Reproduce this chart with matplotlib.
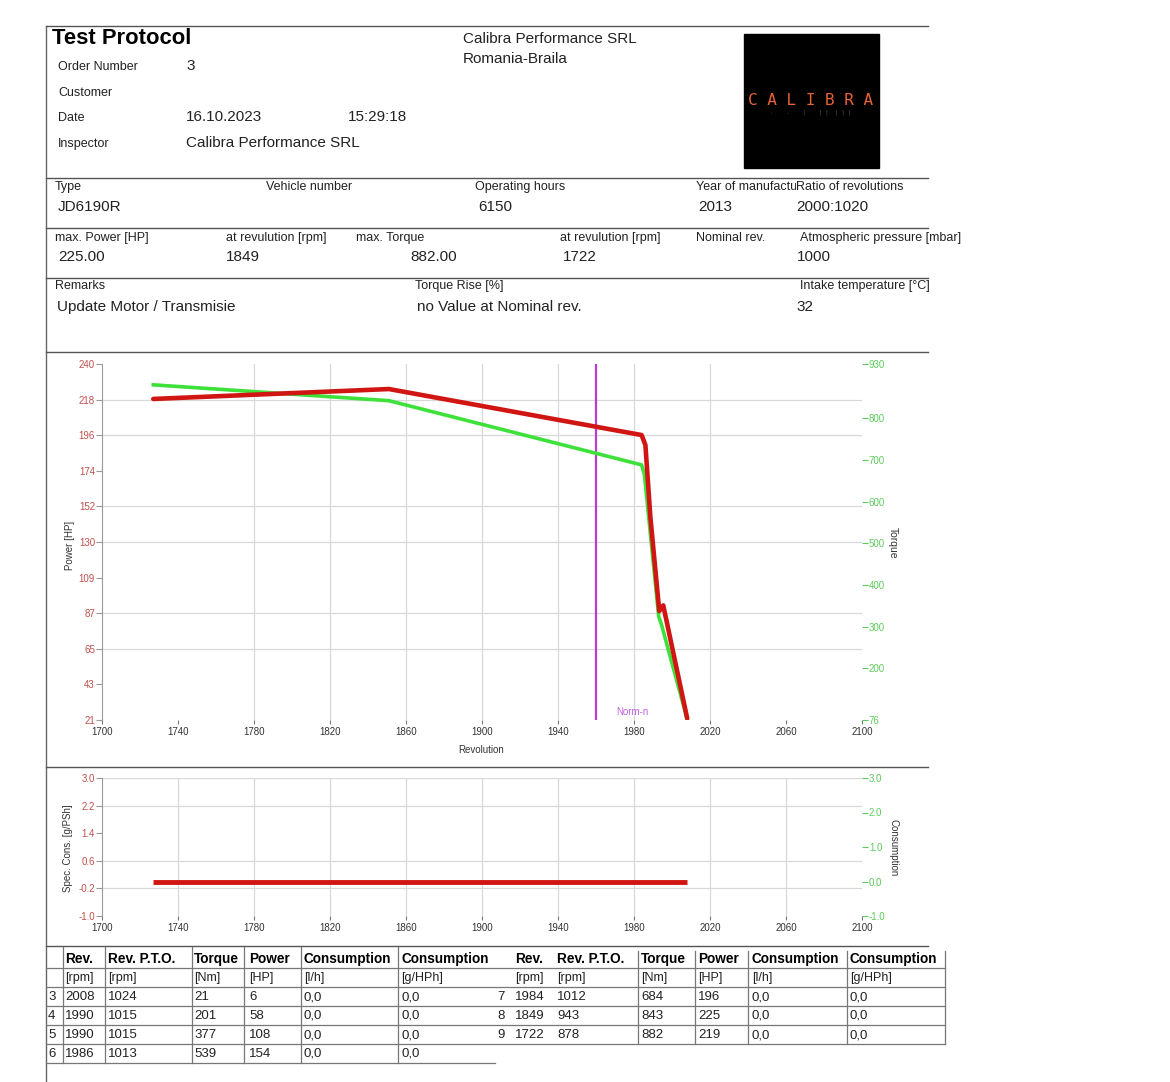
import numpy as np
import matplotlib
matplotlib.use("Agg")
import matplotlib.pyplot as plt
from matplotlib.lines import Line2D
from matplotlib.patches import Rectangle

plt.rcParams['font.family'] = ['Liberation Sans', 'DejaVu Sans']

# curves
power_rpm = [1727, 1851, 1984, 1986, 1988.6, 1993.3, 1995.4, 2008]
power_hp = [218.5, 224.6, 196.3, 190.2, 146, 88, 91.5, 22]
torque_rpm = [1727, 1851, 1984, 1985.5, 1993, 1994.4, 2008]
torque_nm = [880, 842, 688, 664, 324, 306, 78]
cons_rpm = [1727, 2008]
spec_cons = [0.0, 0.0]
nominal_rpm = 1960

power_tick_labels = ['21', '43', '65', '87', '109', '130', '152', '174', '196', '218', '240']
torque_ticks = [76, 200, 300, 400, 500, 600, 700, 800, 930]
cons_left_ticks = [-1.0, -0.2, 0.6, 1.4, 2.2, 3.0]
cons_right_ticks = [-1.0, 0.0, 1.0, 2.0, 3.0]
rpm_ticks = [1700, 1740, 1780, 1820, 1860, 1900, 1940, 1980, 2020, 2060, 2100]

# measurement table
tab_no = [3, 4, 5, 6, 7, 8, 9]
tab_rev = [2008, 1990, 1990, 1986, 1984, 1849, 1722]
tab_pto = [1024, 1015, 1015, 1013, 1012, 943, 878]
tab_torque = [21, 201, 377, 539, 684, 843, 882]
tab_power = [6, 58, 108, 154, 196, 225, 219]
tab_cons_lh = [0.0, 0.0, 0.0, 0.0, 0.0, 0.0, 0.0]
tab_cons_ghph = [0.0, 0.0, 0.0, 0.0, 0.0, 0.0, 0.0]

W, H = 1170, 1082
fig = plt.figure(figsize=(W / 100, H / 100), dpi=100)
fig.patch.set_facecolor('white')

def fx(x):
    return x / W

def fy(y):
    return 1 - y / H

def hline(y, x0, x1, color='#555555', lw=1.0):
    fig.add_artist(Line2D([fx(x0), fx(x1)], [fy(y), fy(y)], color=color, lw=lw))

def vline(x, y0, y1, color='#555555', lw=1.0):
    fig.add_artist(Line2D([fx(x), fx(x)], [fy(y0), fy(y1)], color=color, lw=lw))

def txt(x, y, s, size=9, **kw):
    kw.setdefault('color', '#222222')
    kw.setdefault('ha', 'left')
    fig.text(fx(x), fy(y), s, fontsize=size, va='center', **kw)

# page frame
vline(46, 26, 1082, color='#666666')
for yy in [26, 178, 228, 278, 352, 767, 946]:
    hline(yy, 46, 928)

LAB = 9
VAL = 11

# header
txt(52, 39, 'Test Protocol', size=15.8, weight='bold', color='black')
txt(58, 67, 'Order Number', size=LAB)
txt(186, 66, '3', size=VAL)
txt(58, 93, 'Customer', size=LAB)
txt(58, 118, 'Date', size=LAB)
txt(186, 117, '16.10.2023', size=VAL)
txt(348, 117, '15:29:18', size=VAL)
txt(58, 144, 'Inspector', size=LAB)
txt(186, 143, 'Calibra Performance SRL', size=VAL)
txt(463, 39, 'Calibra Performance SRL', size=VAL)
txt(463, 59, 'Romania-Braila', size=VAL)

fig.add_artist(Rectangle((fx(744), fy(168)), fx(879) - fx(744), fy(34) - fy(168),
                         transform=fig.transFigure, color='black'))
fig.text(fx(811), fy(100), 'C A L I B R A', fontsize=11.5, family='DejaVu Sans Mono',
         color='#e8623a', ha='center', va='center')
fig.text(fx(811), fy(112), '.    .    |    | |  | | |', fontsize=4, family='DejaVu Sans Mono',
         color='#555555', ha='center', va='center')

txt(55, 187, 'Type', size=LAB)
txt(58, 207, 'JD6190R', size=VAL)
txt(266, 187, 'Vehicle number', size=LAB)
txt(475, 187, 'Operating hours', size=LAB)
txt(478, 207, '6150', size=VAL)
txt(696, 187, 'Year of manufactur', size=LAB)
txt(796, 187, 'Ratio of revolutions', size=LAB, bbox=dict(facecolor='white', edgecolor='none', pad=0))
txt(698, 207, '2013', size=VAL)
txt(796, 207, '2000:1020', size=VAL)

txt(55, 238, 'max. Power [HP]', size=LAB)
txt(58, 257, '225.00', size=VAL)
txt(226, 238, 'at revulution [rpm]', size=LAB)
txt(226, 257, '1849', size=VAL)
txt(356, 238, 'max. Torque', size=LAB)
txt(410, 257, '882.00', size=VAL)
txt(560, 238, 'at revulution [rpm]', size=LAB)
txt(563, 257, '1722', size=VAL)
txt(696, 238, 'Nominal rev.', size=LAB)
txt(800, 238, 'Atmospheric pressure [mbar]', size=LAB)
txt(797, 257, '1000', size=VAL)

txt(55, 286, 'Remarks', size=LAB)
txt(57, 307, 'Update Motor / Transmisie', size=VAL)
txt(415, 286, 'Torque Rise [%]', size=LAB)
txt(417, 307, 'no Value at Nominal rev.', size=VAL)
txt(800, 286, 'Intake temperature [°C]', size=LAB)
txt(796, 307, '32', size=VAL)

red = '#d01512'
green = '#3ee03a'
red_lab = '#c0504d'
green_lab = '#5ccc5a'
grid_c = '#d8d8d8'

def style_axes(ax):
    for s in ax.spines.values():
        s.set_visible(False)
    ax.spines['left'].set_visible(True)
    ax.spines['left'].set_color('#9a9a9a')
    ax.set_xlim(1700, 2100)
    ax.set_xticks(rpm_ticks)
    ax.set_xticklabels([str(t) for t in rpm_ticks])
    ax.tick_params(axis='x', length=3, width=0.8, color='#777777', pad=2,
                   labelsize=7, labelcolor='#333333')
    ax.tick_params(axis='y', length=4, width=0.8, color='#999999', pad=1,
                   labelsize=7, labelcolor=red_lab)
    ax.set_facecolor('none')

# chart 1: power / torque
ax1 = fig.add_axes([fx(102), fy(720), (862 - 102) / W, (720 - 364) / H])
style_axes(ax1)
ax1.set_ylim(21, 240)
p_ticks = np.linspace(21, 240, 11)
ax1.set_yticks(p_ticks)
ax1.set_yticklabels(power_tick_labels)
for v in [1780, 1820, 1860, 1900, 1940, 1980, 2020]:
    ax1.axvline(v, color=grid_c, lw=0.9, zorder=0)
for v in [p_ticks[9], p_ticks[8], p_ticks[6], p_ticks[5], p_ticks[3], p_ticks[2]]:
    ax1.axhline(v, color=grid_c, lw=0.9, zorder=0)
ax1.axvline(nominal_rpm, color='#b540d0', lw=1.6, zorder=1)
ax1.text(1979, 26, 'Norm-n', color='#c060dd', fontsize=7, ha='center', va='center')

ax1b = ax1.twinx()
for s in ax1b.spines.values():
    s.set_visible(False)
ax1b.set_ylim(76, 930)
ax1b.set_yticks(torque_ticks)
ax1b.set_yticklabels([str(t) for t in torque_ticks])
ax1b.tick_params(axis='y', length=4, width=0.8, color=green_lab, pad=1,
                 labelsize=7, labelcolor=green_lab)
ax1b.plot(torque_rpm, torque_nm, color=green, lw=2.6, solid_joinstyle='round', zorder=2)
ax3 = ax1.twinx()
ax3.axis('off')
ax3.set_ylim(21, 240)
ax3.plot(power_rpm, power_hp, color=red, lw=3.3, solid_joinstyle='round',
         solid_capstyle='round', zorder=3)

fig.text(fx(70), fy(545), 'Power [HP]', rotation=90, fontsize=7, color='#333333',
         ha='center', va='center')
fig.text(fx(893), fy(543), 'Torque', rotation=270, fontsize=7.5, color='#333333',
         ha='center', va='center')
fig.text(fx(481), fy(750), 'Revolution', fontsize=7, color='#333333',
         ha='center', va='center')

# chart 2: consumption
ax2 = fig.add_axes([fx(102), fy(916), (862 - 102) / W, (916 - 778) / H])
style_axes(ax2)
ax2.set_ylim(-1.0, 3.0)
ax2.set_yticks(cons_left_ticks)
ax2.set_yticklabels([f'{t:.1f}' for t in cons_left_ticks])
for v in [1740, 1780, 1820, 1860, 1900, 1940, 1980, 2020, 2060]:
    ax2.axvline(v, color=grid_c, lw=0.9, zorder=0)
for v in [3.0, 2.2, 0.6, -0.2]:
    ax2.axhline(v, color=grid_c, lw=0.9, zorder=0)
ax2b = ax2.twinx()
for s in ax2b.spines.values():
    s.set_visible(False)
ax2b.set_ylim(-1.0, 3.0)
ax2b.set_yticks(cons_right_ticks)
ax2b.set_yticklabels([f'{t:.1f}' for t in cons_right_ticks])
ax2b.tick_params(axis='y', length=4, width=0.8, color=green_lab, pad=1,
                 labelsize=7, labelcolor=green_lab)
ax2.plot(cons_rpm, spec_cons, color=red, lw=3.5, solid_capstyle='butt', zorder=3)

fig.text(fx(68), fy(848), 'Spec. Cons. [g/PSh]', rotation=90, fontsize=7, color='#333333',
         ha='center', va='center')
fig.text(fx(894), fy(848), 'Consumption', rotation=270, fontsize=7, color='#333333',
         ha='center', va='center')

# table
tc = '#777777'
for yy in [968, 987, 1006, 1025, 1044]:
    hline(yy, 46, 945, color=tc, lw=0.9)
hline(1063, 46, 495, color=tc, lw=0.9)
for xx in [62.5, 105, 191.5, 244, 301, 398]:
    vline(xx, 947, 1063, color=tc, lw=0.9)
for xx in [638, 695, 748, 846.5, 945]:
    vline(xx, 951, 1044, color=tc, lw=0.9)

heads = ['Rev.', 'Rev. P.T.O.', 'Torque', 'Power', 'Consumption', 'Consumption']
units = ['[rpm]', '[rpm]', '[Nm]', '[HP]', '[l/h]', '[g/HPh]']
left_cols = [65, 108, 194, 249, 304, 401]
right_cols = [515, 557, 641, 698, 752, 850]
for cols in [left_cols, right_cols]:
    for x, h, u in zip(cols, heads, units):
        txt(x, 959, h, size=9.8, weight='bold', color='black')
        txt(x, 978, u, size=9)

for i in range(len(tab_no)):
    if i < 4:
        cols = left_cols
        y = 997 + 19 * i
        txt(48, y, str(tab_no[i]), size=9.5)
    else:
        cols = right_cols
        y = 997 + 19 * (i - 4)
        txt(505, y, str(tab_no[i]), size=9.5, ha='right')
    vals = [str(tab_rev[i]), str(tab_pto[i]), str(tab_torque[i]), str(tab_power[i]),
            f'{tab_cons_lh[i]:.1f}'.replace('.', ','), f'{tab_cons_ghph[i]:.1f}'.replace('.', ',')]
    for x, s in zip(cols, vals):
        txt(x, y, s, size=9.5)

fig.savefig('out.png', dpi=100, facecolor='white')
